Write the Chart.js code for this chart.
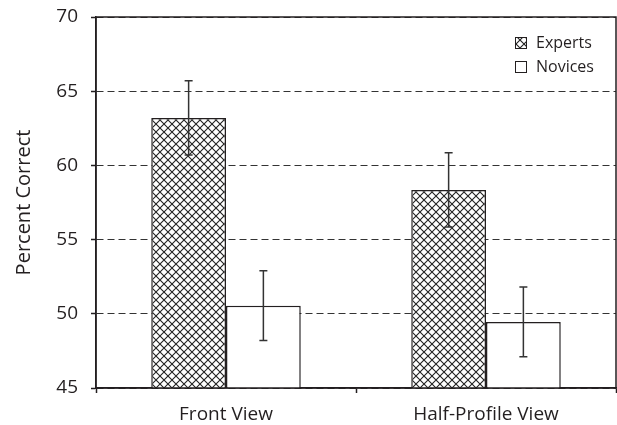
<!DOCTYPE html>
<html>
<head>
<meta charset="utf-8">
<script src="https://cdn.jsdelivr.net/npm/chart.js@4/dist/chart.umd.min.js"></script>
<style>
  body { margin: 0; background: #fff; }
  canvas { display: block; }
</style>
</head>
<body>
<canvas id="chart" width="617" height="425"></canvas>
<script>
// data
const categories = ['Front View', 'Half-Profile View'];
const seriesNames = ['Experts', 'Novices'];
const expertsMean = [63.2, 58.35];
const novicesMean = [50.55, 49.45];
const expertsErr = [2.5, 2.5];
const novicesErr = [2.35, 2.35];
const yTicks = [45, 50, 55, 60, 65, 70];

const ink = '#231f20';

function makeHatch() {
    const c = document.createElement('canvas');
    c.width = 8;
    c.height = 8;
    const g = c.getContext('2d');
    g.fillStyle = '#fff';
    g.fillRect(0, 0, 8, 8);
    g.strokeStyle = '#222';
    g.lineWidth = 1.1;
    g.beginPath();
    g.moveTo(-1, -1); g.lineTo(9, 9);
    g.moveTo(9, -1); g.lineTo(-1, 9);
    g.stroke();
    return document.getElementById('chart').getContext('2d').createPattern(c, 'repeat');
}
const hatch = makeHatch();

// error bars drawn at each bar's centre, using the y scale
const errorBars = {
    id: 'errorBars',
    afterDatasetsDraw(chart) {
        const ctx = chart.ctx;
        const y = chart.scales.y;
        ctx.save();
        ctx.strokeStyle = '#333';
        ctx.lineWidth = 1.5;
        chart.data.datasets.forEach((ds, i) => {
            chart.getDatasetMeta(i).data.forEach((bar, j) => {
                const top = y.getPixelForValue(ds.data[j] + ds.err[j]);
                const bot = y.getPixelForValue(ds.data[j] - ds.err[j]);
                ctx.beginPath();
                ctx.moveTo(bar.x, top); ctx.lineTo(bar.x, bot);
                ctx.moveTo(bar.x - 4, top); ctx.lineTo(bar.x + 4, top);
                ctx.moveTo(bar.x - 4, bot); ctx.lineTo(bar.x + 4, bot);
                ctx.stroke();
            });
        });
        ctx.restore();
    }
};

// plot frame + legend box in the upper right
const frameAndLegend = {
    id: 'frameAndLegend',
    afterDraw(chart) {
        const ctx = chart.ctx;
        const a = chart.chartArea;
        ctx.save();
        ctx.strokeStyle = ink;
        ctx.lineWidth = 1.5;
        ctx.setLineDash([]);
        ctx.strokeRect(a.left, a.top, a.right - a.left, a.bottom - a.top);

        ctx.font = '16px "Open Sans"';
        ctx.textBaseline = 'middle';
        ctx.lineWidth = 1;
        chart.data.datasets.forEach((ds, i) => {
            const bx = a.right - 101;
            const by = a.top + 20 + i * 24;
            ctx.fillStyle = ds.backgroundColor;
            ctx.fillRect(bx, by, 11, 11);
            ctx.strokeStyle = ink;
            ctx.strokeRect(bx + 0.5, by + 0.5, 11, 11);
            ctx.fillStyle = ink;
            ctx.fillText(ds.label, bx + 21, by + 6);
        });
        ctx.restore();
    }
};

new Chart(document.getElementById('chart'), {
    type: 'bar',
    data: {
        labels: categories,
        datasets: [
            {
                label: seriesNames[0],
                data: expertsMean,
                err: expertsErr,
                backgroundColor: hatch,
                borderColor: ink,
                borderWidth: 1.5,
                categoryPercentage: 0.575,
                barPercentage: 1
            },
            {
                label: seriesNames[1],
                data: novicesMean,
                err: novicesErr,
                backgroundColor: '#fff',
                borderColor: ink,
                borderWidth: 1.5,
                categoryPercentage: 0.575,
                barPercentage: 1
            }
        ]
    },
    options: {
        responsive: false,
        animation: false,
        layout: { padding: { top: 17, right: 1, left: 0, bottom: 0 } },
        plugins: {
            legend: { display: false },
            tooltip: { enabled: false }
        },
        scales: {
            x: {
                offset: true,
                grid: {
                    offset: true,
                    drawOnChartArea: false,
                    drawTicks: true,
                    tickLength: 5,
                    color: ink,
                    tickWidth: 1.5
                },
                border: { display: true, color: ink, width: 1.5 },
                ticks: {
                    color: ink,
                    padding: 10,
                    font: { family: 'Open Sans', size: 19 }
                },
                afterFit(scale) {
                    scale.height = 37;
                    scale.paddingLeft = 0;
                    scale.paddingRight = 0;
                }
            },
            y: {
                min: 45,
                max: 70,
                afterBuildTicks(scale) {
                    scale.ticks = yTicks.map(v => ({ value: v }));
                },
                grid: {
                    color: '#333',
                    lineWidth: 1,
                    tickBorderDash: [],
                    tickLength: 5,
                    tickColor: ink,
                    tickWidth: 1.5
                },
                border: { display: true, color: ink, width: 1.5, dash: [7, 4] },
                ticks: {
                    color: ink,
                    padding: 13,
                    font: { family: 'Open Sans', size: 19 }
                },
                title: {
                    display: true,
                    text: 'Percent Correct',
                    color: ink,
                    padding: { top: 12, bottom: 0 },
                    font: { family: 'Open Sans', size: 20 }
                },
                afterFit(scale) {
                    scale.width = 96;
                    scale.paddingTop = 0;
                    scale.paddingBottom = 0;
                }
            }
        }
    },
    plugins: [errorBars, frameAndLegend]
});
</script>
</body>
</html>
